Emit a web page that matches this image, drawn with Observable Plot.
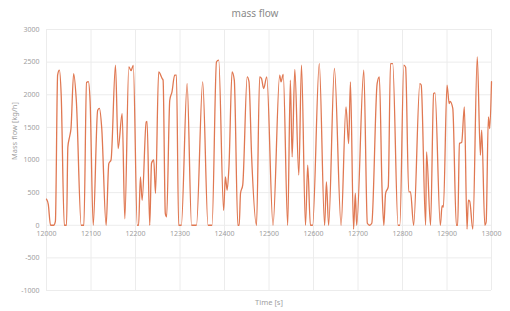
<!DOCTYPE html>
<html>
<head>
<meta charset="utf-8">
<script src="https://cdn.jsdelivr.net/npm/d3@7"></script>
<script src="https://cdn.jsdelivr.net/npm/@observablehq/plot@0.6"></script>
<style>
  html, body { margin: 0; padding: 0; background: #fff; }
  body { width: 510px; height: 311px; overflow: hidden; font-family: "Noto Sans", sans-serif; }
  #title { height: 22px; line-height: 26px; text-align: center; font-size: 10px; color: #8a8a8a; }
</style>
</head>
<body>
<div id="title">mass flow</div>
<div id="chart"></div>
<script>
const times = [12000,12004,12009,12016,12020,12025,12029,12033,12040,12045,12048,12052,12055,12061,12067,12078,12084,12090,12094,12098,12105,12115,12119,12124,12134,12140,12145,12155,12161,12170,12176,12185,12190,12195,12204,12207,12211,12215,12224,12226,12232,12236,12241,12245,12252,12260,12262,12267,12270,12277,12282,12288,12292,12297,12303,12316,12326,12337,12351,12363,12372,12382,12387,12398,12402,12406,12410,12417,12422,12430,12433,12436,12441,12451,12455,12461,12472,12479,12483,12488,12495,12509,12524,12527,12532,12542,12548,12552,12558,12567,12573,12582,12587,12593,12598,12613,12625,12629,12634,12647,12662,12673,12679,12683,12690,12694,12697,12713,12721,12726,12731,12743,12748,12754,12758,12762,12768,12773,12778,12790,12794,12803,12807,12814,12818,12825,12839,12842,12852,12854,12863,12870,12873,12885,12889,12892,12900,12905,12907,12913,12921,12924,12928,12933,12939,12945,12948,12951,12958,12968,12975,12978,12985,12988,12993,12996,13000];
const massFlow = [400,320,0,0,60,2300,2376,2000,0,0,1200,1360,1480,2325,1916,0,0,2187,2200,1900,0,1763,1790,1500,0,945,1000,2453,1175,1712,100,2427,2370,2450,0,0,740,383,1584,1590,0,950,1000,490,2350,2248,2225,178,128,1916,2044,2300,2300,0,0,2172,0,0,2197,0,0,2504,2530,230,740,537,894,2350,2225,0,0,490,620,2274,2200,1047,0,2274,2250,2095,2274,0,2300,2197,2310,0,2223,1047,2387,767,2453,0,920,0,0,2478,0,664,0,2402,0,1814,1252,2197,-60,490,0,2376,30,0,30,2172,2274,562,0,490,590,2478,2478,0,0,2453,2420,511,511,0,2172,2150,0,1124,0,2019,2030,0,300,280,2146,1865,1900,1790,0,0,1252,1270,1814,-60,383,370,-60,2580,1073,1456,0,50,1660,1480,2200];
const xTicks = [12000,12100,12200,12300,12400,12500,12600,12700,12800,12900,13000];
const yTicks = [-1000,-500,0,500,1000,1500,2000,2500,3000];
const titleText = "mass flow";
const xLabel = "Time [s]";
const yLabel = "Mass flow [kg/h]";

const data = times.map((t, i) => ({t, v: massFlow[i]}));
const labelColor = "#a0a0a0";

const chart = Plot.plot({
  width: 510,
  height: 289,
  marginLeft: 46,
  marginRight: 19,
  marginTop: 7,
  marginBottom: 21,
  style: {fontFamily: "Noto Sans, sans-serif", fontSize: "7px", color: labelColor, background: "#fff"},
  x: {domain: [12000, 13000], axis: null},
  y: {domain: [-1000, 3000], axis: null},
  marks: [
    Plot.gridX(xTicks, {stroke: "#ececec", strokeOpacity: 1}),
    Plot.gridY(yTicks, {stroke: "#ececec", strokeOpacity: 1}),
    Plot.line(data, {x: "t", y: "v", stroke: "#e07852", strokeWidth: 1.3, curve: "monotone-x"}),
    Plot.text(yTicks, {x: 12000, y: d => d, text: d => String(d), textAnchor: "end", dx: -7, fill: labelColor, fontSize: 7}),
    Plot.text(xTicks, {x: d => d, y: 0, text: d => String(d), dy: 8, fill: labelColor, fontSize: 7}),
    Plot.text([xLabel], {frameAnchor: "bottom", dy: 14, fill: labelColor, fontSize: 7.5}),
    Plot.text([yLabel], {frameAnchor: "left", rotate: -90, dx: -32, fill: labelColor, fontSize: 7.5})
  ]
});
document.getElementById("chart").appendChild(chart);
</script>
</body>
</html>
